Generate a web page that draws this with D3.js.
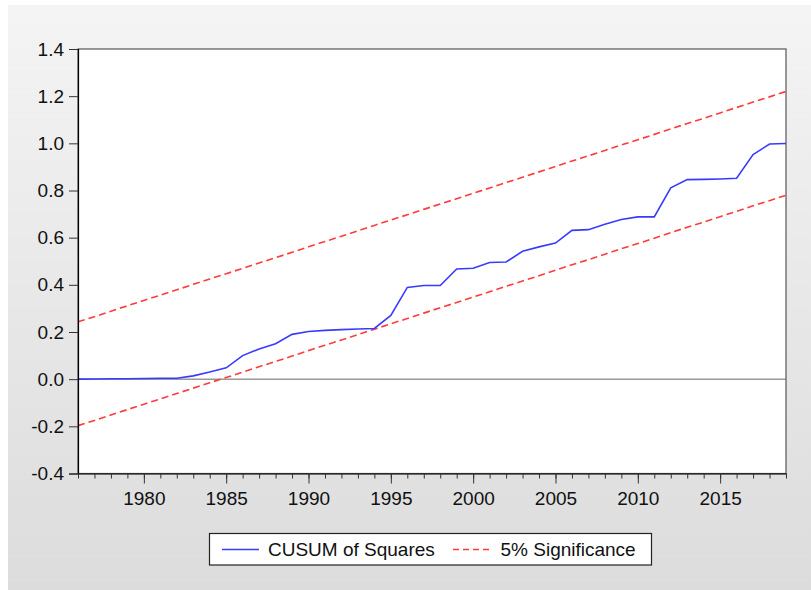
<!DOCTYPE html>
<html>
<head>
<meta charset="utf-8">
<script src="https://cdn.jsdelivr.net/npm/d3@7"></script>
<style>
  html, body { margin: 0; padding: 0; background: #ffffff; }
  svg { display: block; }
  text { font-family: "Liberation Sans", Arial, sans-serif; }
</style>
</head>
<body>
<svg id="chart" width="811" height="590"></svg>
<script>
// ---- Data ----
const years = d3.range(1976, 2020);
const cusumSq = [
  0.000, 0.001, 0.002, 0.002, 0.003, 0.004, 0.004, 0.014, 0.030, 0.048,
  0.100, 0.128, 0.150, 0.190, 0.202, 0.207, 0.210, 0.213, 0.215, 0.270,
  0.389, 0.397, 0.397, 0.467, 0.470, 0.495, 0.497, 0.542, 0.561, 0.577,
  0.631, 0.634, 0.657, 0.677, 0.688, 0.688, 0.811, 0.846, 0.847, 0.849,
  0.852, 0.952, 0.997, 0.999
];
const upperBand = [
  0.243, 0.265, 0.288, 0.311, 0.334, 0.356, 0.379, 0.402, 0.425, 0.447,
  0.470, 0.493, 0.515, 0.538, 0.561, 0.584, 0.606, 0.629, 0.652, 0.675,
  0.697, 0.720, 0.743, 0.765, 0.788, 0.811, 0.834, 0.856, 0.879, 0.902,
  0.925, 0.947, 0.970, 0.993, 1.015, 1.038, 1.061, 1.084, 1.106, 1.129,
  1.152, 1.175, 1.197, 1.220
];
const lowerBand = [
  -0.197, -0.175, -0.152, -0.129, -0.106, -0.084, -0.061, -0.038, -0.015, 0.007,
  0.030, 0.053, 0.075, 0.098, 0.121, 0.144, 0.166, 0.189, 0.212, 0.235,
  0.257, 0.280, 0.303, 0.325, 0.348, 0.371, 0.394, 0.416, 0.439, 0.462,
  0.485, 0.507, 0.530, 0.553, 0.575, 0.598, 0.621, 0.644, 0.666, 0.689,
  0.712, 0.735, 0.757, 0.780
];
const yTicks = [-0.4, -0.2, 0.0, 0.2, 0.4, 0.6, 0.8, 1.0, 1.2, 1.4];
const xMajorTicks = [1980, 1985, 1990, 1995, 2000, 2005, 2010, 2015];
const legendLabels = ["CUSUM of Squares", "5% Significance"];

// ---- Layout ----
const W = 811, H = 590;
const plot = { left: 78, right: 786, top: 49, bottom: 473.5 };
const fontSize = 19;

const svg = d3.select("#chart");

// background gradient
const defs = svg.append("defs");
const grad = defs.append("linearGradient").attr("id", "bg").attr("x1", 0).attr("y1", 0).attr("x2", 0).attr("y2", 1);
grad.append("stop").attr("offset", "0%").attr("stop-color", "#f4f4f4");
grad.append("stop").attr("offset", "100%").attr("stop-color", "#dcdcdc");
svg.append("rect").attr("x", 0).attr("y", 0).attr("width", W).attr("height", H).attr("fill", "#ffffff");
svg.append("rect").attr("x", 8).attr("y", 5).attr("width", W - 8).attr("height", H - 5).attr("fill", "url(#bg)");

const x = d3.scaleLinear().domain([1976, 2019]).range([plot.left, plot.right]);
const y = d3.scaleLinear().domain([-0.4, 1.4]).range([plot.bottom, plot.top]);

// plot area
svg.append("rect")
  .attr("x", plot.left).attr("y", plot.top)
  .attr("width", plot.right - plot.left).attr("height", plot.bottom - plot.top)
  .attr("fill", "#ffffff").attr("stroke", "#555555").attr("stroke-width", 1.2);

// zero line
svg.append("line")
  .attr("x1", plot.left).attr("x2", plot.right)
  .attr("y1", y(0)).attr("y2", y(0))
  .attr("stroke", "#666666").attr("stroke-width", 1);

// significance lines
const line = d3.line().x((d, i) => x(years[i])).y(d => y(d));
[upperBand, lowerBand].forEach(band => {
  svg.append("path").datum(band)
    .attr("d", line)
    .attr("fill", "none")
    .attr("stroke", "#ff3b3b")
    .attr("stroke-width", 1.6)
    .attr("stroke-dasharray", "7,4");
});

// CUSUM of squares line
svg.append("path").datum(cusumSq)
  .attr("d", line)
  .attr("fill", "none")
  .attr("stroke", "#3a3aff")
  .attr("stroke-width", 1.6);

// Y axis
const yAxis = d3.axisLeft(y).tickValues(yTicks).tickFormat(d => d.toFixed(1)).tickSize(9).tickPadding(5);
const gy = svg.append("g").attr("transform", `translate(${plot.left},0)`).call(yAxis);
gy.select(".domain").attr("stroke", "#000").attr("stroke-width", 1.2);
gy.selectAll(".tick line").attr("stroke", "#333");
gy.selectAll(".tick text").attr("font-size", fontSize).attr("fill", "#111").attr("font-family", "Liberation Sans, Arial, sans-serif");

// X axis minor (every year)
const xMinor = d3.axisBottom(x).tickValues(years).tickFormat("").tickSize(5).tickSizeOuter(0);
const gxm = svg.append("g").attr("transform", `translate(0,${plot.bottom})`).call(xMinor);
gxm.select(".domain").attr("stroke", "#000").attr("stroke-width", 1.2);
gxm.selectAll(".tick line").attr("stroke", "#333");

// X axis major
const xMajor = d3.axisBottom(x).tickValues(xMajorTicks).tickFormat(d3.format("d")).tickSize(10).tickPadding(8).tickSizeOuter(0);
const gx = svg.append("g").attr("transform", `translate(0,${plot.bottom})`).call(xMajor);
gx.select(".domain").remove();
gx.selectAll(".tick line").attr("stroke", "#333");
gx.selectAll(".tick text").attr("font-size", fontSize).attr("fill", "#111").attr("font-family", "Liberation Sans, Arial, sans-serif");

// Legend
const lg = svg.append("g");
lg.append("rect").attr("x", 209.5).attr("y", 533.5).attr("width", 442).attr("height", 31.5)
  .attr("fill", "#ffffff").attr("stroke", "#222").attr("stroke-width", 1.2);
lg.append("line").attr("x1", 222).attr("x2", 259).attr("y1", 549.5).attr("y2", 549.5)
  .attr("stroke", "#3a3aff").attr("stroke-width", 1.5);
lg.append("text").attr("x", 268).attr("y", 556).attr("font-size", fontSize).attr("fill", "#111").text(legendLabels[0]);
lg.append("line").attr("x1", 453).attr("x2", 492).attr("y1", 549.5).attr("y2", 549.5)
  .attr("stroke", "#ff3b3b").attr("stroke-width", 1.3).attr("stroke-dasharray", "6,4");
lg.append("text").attr("x", 500.5).attr("y", 556).attr("font-size", fontSize).attr("fill", "#111").text(legendLabels[1]);
</script>
</body>
</html>
